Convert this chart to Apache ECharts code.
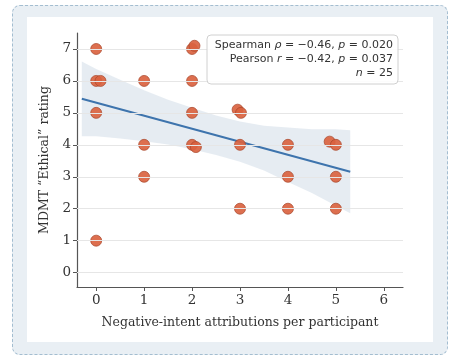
<!DOCTYPE html>
<html>
<head>
<meta charset="utf-8">
<script src="https://cdn.jsdelivr.net/npm/echarts@6/dist/echarts.min.js"></script>
<style>
  html, body { margin: 0; padding: 0; background: #fff; }
  .frame {
    position: absolute; left: 12px; top: 5px; width: 434px; height: 348px;
    border: 1px dashed #a3bdd0; border-radius: 8px; background: #e9eff4;
  }
  .panel {
    position: absolute; left: 27px; top: 17px; width: 406px; height: 325px;
    background: #fff;
  }
  #chart { position: absolute; left: 0; top: 0; width: 459px; height: 357px; }
</style>
</head>
<body>
<div class="frame"></div>
<div class="panel"></div>
<div id="chart"></div>
<script>
// participants: negative-intent attributions (slightly jittered) vs MDMT ethical rating
const attrX = [0, 0, 0.09, 0, 0, 1, 1, 1, 2, 2.05, 2, 2, 2, 2.08, 2.95, 3.02, 3, 3, 4, 4, 4, 4.87, 5, 5, 5];
const ratingY = [7, 6, 6, 5, 1, 6, 4, 3, 7, 7.1, 6, 5, 4, 3.93, 5.1, 5, 4, 2, 4, 3, 2, 4.1, 4, 3, 2];

// fitted regression line end points
const fitX = [-0.3, 5.3];
const fitY = [5.44, 3.16];

// confidence band
const bandX = [-0.3, 0, 0.5, 1, 1.5, 2, 2.5, 3, 3.5, 4, 4.5, 5, 5.3];
const bandUpper = [6.61, 6.37, 6.04, 5.71, 5.41, 5.16, 4.92, 4.73, 4.6, 4.54, 4.49, 4.49, 4.46];
const bandLower = [4.27, 4.27, 4.2, 4.11, 4.01, 3.86, 3.68, 3.47, 3.2, 2.84, 2.49, 2.09, 1.86];

const xTicks = [0, 1, 2, 3, 4, 5, 6];
const yTicks = [0, 1, 2, 3, 4, 5, 6, 7];

// stats box lines
const statLines = [
  "Spearman {i|\u03c1} = \u22120.46, {i|p} = 0.020",
  "Pearson {i|r} = \u22120.42, {i|p} = 0.037",
  "{i|n} = 25",
];

const serif = "DejaVu Serif";
const sans = "DejaVu Sans";

const chart = echarts.init(document.getElementById("chart"));

const statText = statLines.map((t, k) => ({
  type: "text",
  x: 393,
  y: 40 + k * 14,
  z: 11,
  style: {
    text: t,
    align: "right",
    verticalAlign: "top",
    fontFamily: sans,
    fontSize: 11,
    fill: "#333",
    rich: {
      i: { fontFamily: sans, fontSize: 11, fontStyle: "italic", fill: "#333" },
    },
  },
}));

const option = {
  backgroundColor: "transparent",
  animation: false,
  grid: { left: 77, right: 56, top: 33, bottom: 70 },
  xAxis: {
    type: "value",
    min: -0.4,
    max: 6.4,
    name: "Negative-intent attributions per participant",
    nameLocation: "middle",
    nameGap: 29,
    nameTextStyle: { fontFamily: serif, fontSize: 12.5, color: "#333" },
    axisLine: { show: true, onZero: false, lineStyle: { color: "#555", width: 1.2 } },
    axisTick: { show: true, customValues: xTicks, length: 4, lineStyle: { color: "#555" } },
    axisLabel: { customValues: xTicks, fontFamily: serif, fontSize: 13.5, color: "#333", margin: 6 },
    splitLine: { show: false },
  },
  yAxis: {
    type: "value",
    min: -0.45,
    max: 7.5,
    name: "MDMT \u201cEthical\u201d rating",
    nameLocation: "middle",
    nameGap: 25,
    nameTextStyle: { fontFamily: serif, fontSize: 12.5, color: "#333" },
    axisLine: { show: true, onZero: false, lineStyle: { color: "#555", width: 1.2 } },
    axisTick: { show: true, customValues: yTicks, length: 4, lineStyle: { color: "#555" } },
    axisLabel: { customValues: yTicks, fontFamily: serif, fontSize: 13.5, color: "#333", margin: 6 },
    splitLine: { show: false },
  },
  graphic: [
    {
      type: "rect",
      shape: { x: 207, y: 35, width: 191, height: 49, r: 4 },
      style: { fill: "rgba(255,255,255,0.85)", stroke: "#d0d0d0", lineWidth: 1 },
      z: 10,
    },
    ...statText,
  ],
  series: [
    {
      // horizontal gridlines
      type: "line",
      data: [],
      silent: true,
      markLine: {
        symbol: "none",
        silent: true,
        label: { show: false },
        lineStyle: { color: "#e6e6e6", width: 1, type: "solid" },
        data: yTicks.map((v) => ({ yAxis: v })),
      },
      z: 1,
    },
    {
      type: "custom",
      silent: true,
      z: 2,
      data: [0],
      renderItem: function (params, api) {
        const pts = [];
        for (let i = 0; i < bandX.length; i++) pts.push(api.coord([bandX[i], bandUpper[i]]));
        for (let i = bandX.length - 1; i >= 0; i--) pts.push(api.coord([bandX[i], bandLower[i]]));
        return {
          type: "polygon",
          shape: { points: pts },
          style: { fill: "rgba(190,205,220,0.38)" },
        };
      },
    },
    {
      type: "line",
      silent: true,
      z: 3,
      showSymbol: false,
      lineStyle: { color: "#3e74ad", width: 2 },
      data: fitX.map((x, i) => [x, fitY[i]]),
    },
    {
      type: "scatter",
      z: 4,
      symbolSize: 11,
      itemStyle: { color: "#da6340", borderColor: "#a9472b", borderWidth: 0.8, opacity: 0.92 },
      data: attrX.map((x, i) => [x, ratingY[i]]),
    },
  ],
};

chart.setOption(option);
</script>
</body>
</html>
